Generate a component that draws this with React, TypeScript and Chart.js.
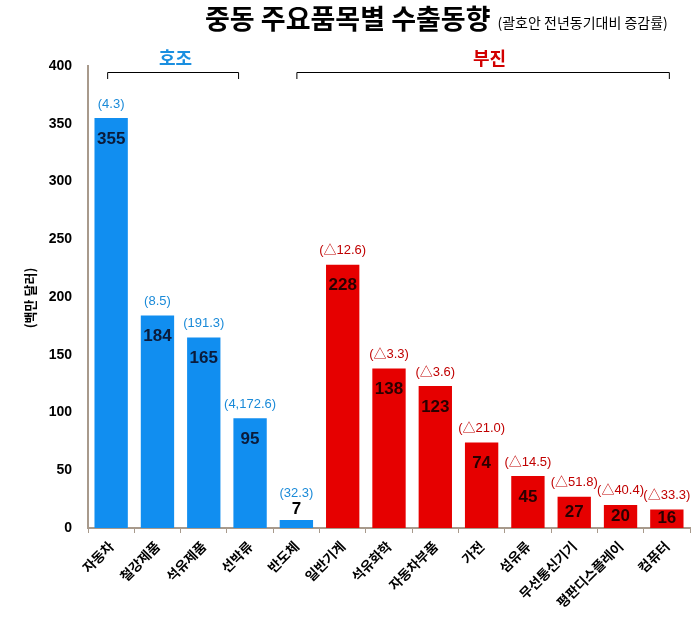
import React, { useEffect, useRef } from "react";
import { Chart, registerables } from "chart.js";

Chart.register(...registerables);

const categories = ["자동차", "철강제품", "석유제품", "선박류", "반도체", "일반기계", "석유화학", "자동차부품", "가전", "섬유류", "무선통신기기", "평판디스플레이", "컴퓨터"];
const values = [355, 184, 165, 95, 7, 228, 138, 123, 74, 45, 27, 20, 16];
const changeLabels = ["(4.3)", "(8.5)", "(191.3)", "(4,172.6)", "(32.3)", "(△12.6)", "(△3.3)", "(△3.6)", "(△21.0)", "(△14.5)", "(△51.8)", "(△40.4)", "(△33.3)"];
const isGood = [true, true, true, true, true, false, false, false, false, false, false, false, false];
const yTicks = [0, 50, 100, 150, 200, 250, 300, 350, 400];

const BLUE = "#118EF0";
const RED = "#E60000";
const FONT = "'Liberation Sans', 'Noto Sans CJK KR', sans-serif";
const KFONT = "'Noto Sans CJK KR', 'Liberation Sans', sans-serif";

const decor = {
  id: "decor",
  afterDatasetsDraw(chart: any) {
    const ctx = chart.ctx;
    const x = chart.scales.x;
    const y = chart.scales.y;
    const meta = chart.getDatasetMeta(0);
    ctx.save();
    // Title
    ctx.textBaseline = "middle";
    ctx.textAlign = "left";
    ctx.fillStyle = "#000";
    ctx.font = `bold 27px ${KFONT}`;
    const t = "중동 주요품목별 수출동향";
    ctx.fillText(t, 205, 19);
    const tw = ctx.measureText(t).width;
    ctx.font = `14px ${KFONT}`;
    ctx.fillText("(괄호안 전년동기대비 증감률)", 205 + tw + 7, 23);

    // y axis title
    ctx.save();
    ctx.translate(30, 298);
    ctx.rotate(-Math.PI / 2);
    ctx.textAlign = "center";
    ctx.font = `bold 13px ${KFONT}`;
    ctx.fillText("(백만 달러)", 0, 0);
    ctx.restore();

    // brackets
    const by = 72;
    const drawBracket = (l: number, r: number, label: string, color: string, cx: number) => {
      ctx.strokeStyle = "#000";
      ctx.lineWidth = 1;
      ctx.beginPath();
      ctx.moveTo(l + 0.5, by + 7);
      ctx.lineTo(l + 0.5, by + 0.5);
      ctx.lineTo(r + 0.5, by + 0.5);
      ctx.lineTo(r + 0.5, by + 7);
      ctx.stroke();
      ctx.fillStyle = color;
      ctx.font = `bold 18px ${KFONT}`;
      ctx.textAlign = "center";
      ctx.fillText(label, cx, 58);
    };
    const p = (i: number) => x.getPixelForValue(i);
    const l1 = p(0) - 4, r1 = p(3) - 12;
    drawBracket(l1, r1, "호조", "#1A8FE0", (l1 + r1) / 2 + 3);
    const l2 = p(4), r2 = p(12) + 2;
    drawBracket(l2, r2, "부진", "#D20000", (l2 + r2) / 2 + 7);

    // data labels
    const base = y.getPixelForValue(0);
    meta.data.forEach((bar: any, i: number) => {
      const top = bar.y;
      const h = base - top;
      const v = values[i];
      const inside = h > 15;
      ctx.textAlign = "center";
      ctx.font = `bold 17px ${FONT}`;
      ctx.fillStyle = inside ? (isGood[i] ? "#0B1B3A" : "#2A0000") : "#000";
      const vy = inside ? top + Math.min(21, h / 2) : top - 11;
      ctx.fillText(String(v), bar.x, vy);
      ctx.font = `13px ${FONT}`;
      ctx.fillStyle = isGood[i] ? "#1A8AD8" : "#C00000";
      const cy = inside ? top - 14 : vy - 15;
      ctx.fillText(changeLabels[i], bar.x, cy);
    });
    ctx.restore();
  },
};

export default function App() {
  const ref = useRef<HTMLCanvasElement>(null);
  useEffect(() => {
    document.body.style.margin = "0";
    const chart = new Chart(ref.current as HTMLCanvasElement, {
      type: "bar",
      data: {
        labels: categories,
        datasets: [
          {
            data: values,
            backgroundColor: isGood.map((g) => (g ? BLUE : RED)),
            barPercentage: 0.72,
            categoryPercentage: 1,
          },
        ],
      },
      options: {
        responsive: false,
        animation: false,
        plugins: { legend: { display: false }, tooltip: { enabled: false } },
        layout: { padding: { top: 66, right: 9, left: 0, bottom: 0 } },
        scales: {
          x: {
            grid: { drawOnChartArea: false, drawTicks: true, tickLength: 5, color: "#A89A8C", offset: true },
            border: { display: true, color: "#A89A8C", width: 2 },
            ticks: {
              minRotation: 45,
              maxRotation: 45,
              autoSkip: false,
              color: "#000",
              font: { family: KFONT, size: 13.5, weight: "bold" },
              padding: 5,
            },
            afterFit: (s: any) => {
              s.height = 623 - 528;
            },
          },
          y: {
            min: 0,
            max: 400,
            afterBuildTicks: (s: any) => {
              s.ticks = yTicks.map((v) => ({ value: v }));
            },
            grid: { display: false },
            border: { display: true, color: "#A89A8C", width: 2 },
            ticks: {
              color: "#000",
              font: { family: FONT, size: 14, weight: "bold" },
              padding: 8,
            },
            afterFit: (s: any) => {
              s.width = 88;
            },
          },
        },
      },
      plugins: [decor],
    } as any);
    return () => chart.destroy();
  }, []);
  return <canvas ref={ref} width={699} height={623} style={{ display: "block" }} />;
}
